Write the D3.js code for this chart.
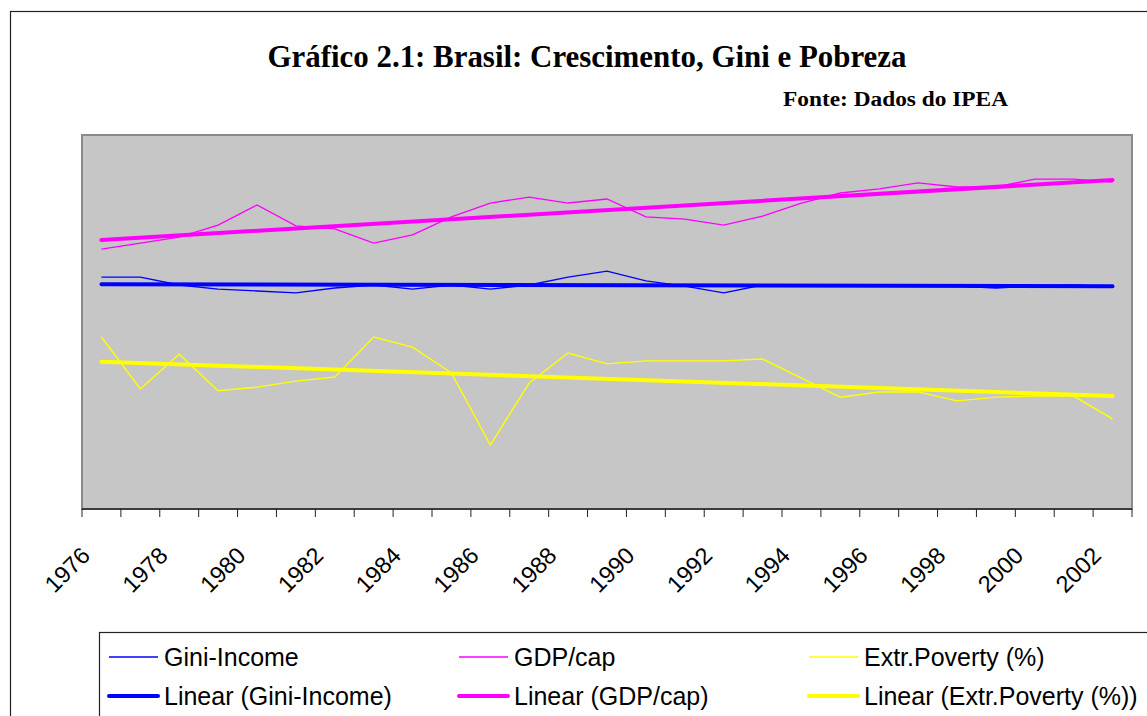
<!DOCTYPE html>
<html>
<head>
<meta charset="utf-8">
<script src="https://cdn.jsdelivr.net/npm/d3@7"></script>
<style>
  body { margin: 0; background: #fff; }
  svg { display: block; }
</style>
</head>
<body>
<svg id="chart"></svg>
<script>
const years = d3.range(1976, 2003);
const tick_years = years.filter(y => y % 2 == 0);

// values (common axis, 0-100)
const gini_income = [62.0, 62.0, 59.9, 58.8, 58.3, 57.8, 59.1, 59.9, 58.8, 59.9, 58.8, 59.9, 62.0, 63.6,
                     61.0, 59.6, 57.8, 59.9, 59.6, 59.6, 59.6, 59.6, 59.6, 59.1, 59.6, 59.9, 59.4];
const gdp_cap = [69.5, 71.1, 72.7, 75.9, 81.3, 75.7, 74.9, 71.1, 73.3, 78.1, 81.8, 83.4, 81.8, 82.9,
                 78.1, 77.5, 75.9, 78.3, 81.8, 84.5, 85.6, 87.2, 86.1, 86.1, 88.2, 88.2, 87.4];
const extr_poverty = [46.0, 32.1, 41.4, 31.6, 32.6, 34.2, 35.3, 46.0, 43.3, 36.4, 17.1, 33.7, 41.7, 38.8,
                      39.6, 39.6, 39.6, 40.1, 35.0, 29.9, 31.3, 31.3, 28.9, 29.9, 30.2, 30.2, 24.1];

const series = [
  {name: "Gini-Income", values: gini_income, color: "#0000ff"},
  {name: "GDP/cap", values: gdp_cap, color: "#ff00ff"},
  {name: "Extr.Poverty (%)", values: extr_poverty, color: "#ffff00"}
];

const width = 1147, height = 716;
const plot = {left: 82, right: 1132, top: 135, bottom: 509};

const svg = d3.select("#chart").attr("width", width).attr("height", height);

// outer chart border
svg.append("rect")
   .attr("x", 10.5).attr("y", 11.5)
   .attr("width", 1200).attr("height", 800)
   .attr("fill", "white")
   .attr("stroke", "#222").attr("stroke-width", 1.2);

svg.append("text")
   .attr("x", 587).attr("y", 67)
   .attr("text-anchor", "middle")
   .attr("font-family", "'Liberation Serif', 'Times New Roman', serif")
   .attr("font-weight", "bold")
   .attr("font-size", 31)
   .attr("textLength", 639).attr("lengthAdjust", "spacingAndGlyphs")
   .text("Gráfico 2.1: Brasil: Crescimento, Gini e Pobreza");

svg.append("text")
   .attr("x", 783).attr("y", 106)
   .attr("font-family", "'Liberation Serif', 'Times New Roman', serif")
   .attr("font-weight", "bold")
   .attr("font-size", 20)
   .attr("textLength", 225).attr("lengthAdjust", "spacingAndGlyphs")
   .text("Fonte: Dados do IPEA");

const x = d3.scaleBand().domain(years).range([plot.left, plot.right]).padding(0);
const cx = d => x(d) + x.bandwidth() / 2;
const y = d3.scaleLinear().domain([0, 100]).range([plot.bottom, plot.top]);

// plot area
svg.append("rect")
   .attr("x", plot.left).attr("y", plot.top)
   .attr("width", plot.right - plot.left).attr("height", plot.bottom - plot.top)
   .attr("fill", "#c6c6c6")
   .attr("stroke", "#8a8a8a").attr("stroke-width", 2);

// x axis with ticks between categories
const ax = svg.append("g");
ax.append("line")
  .attr("x1", plot.left).attr("x2", plot.right)
  .attr("y1", plot.bottom).attr("y2", plot.bottom)
  .attr("stroke", "#222").attr("stroke-width", 1.5);
ax.selectAll(".tick")
  .data(years.concat([null]))
  .enter().append("line")
  .attr("x1", d => d == null ? plot.right : x(d))
  .attr("x2", d => d == null ? plot.right : x(d))
  .attr("y1", plot.bottom).attr("y2", plot.bottom + 8)
  .attr("stroke", "#222").attr("stroke-width", 1);
ax.selectAll(".lbl")
  .data(tick_years)
  .enter().append("text")
  .attr("transform", d => "translate(" + (cx(d) - 10) + "," + 557 + ") rotate(-45)")
  .attr("text-anchor", "end")
  .attr("font-family", "'Liberation Sans', Arial, sans-serif")
  .attr("font-size", 23.5)
  .attr("fill", "#000")
  .text(d => d);

const line = d3.line()
               .x((d, i) => cx(years[i]))
               .y(d => y(d));

function trend(values) {
  const n = values.length;
  const xs = d3.range(n);
  const mx = d3.mean(xs), my = d3.mean(values);
  const b = d3.sum(xs, i => (i - mx) * (values[i] - my)) / d3.sum(xs, i => (i - mx) * (i - mx));
  const a = my - b * mx;
  return [0, n - 1].map(i => ({i: i, v: a + b * i}));
}

const lines = svg.append("g");
series.forEach(function(s) {
  lines.append("path")
       .datum(s.values)
       .attr("d", line)
       .attr("fill", "none")
       .attr("stroke", s.color)
       .attr("stroke-width", 1.4);
});
series.forEach(function(s) {
  lines.append("path")
       .datum(trend(s.values))
       .attr("d", d3.line().x(d => cx(years[d.i])).y(d => y(d.v)))
       .attr("fill", "none")
       .attr("stroke", s.color)
       .attr("stroke-width", 4)
       .attr("stroke-linecap", "round");
});

// legend
const legend = svg.append("g");
legend.append("rect")
      .attr("x", 99.5).attr("y", 632.5)
      .attr("width", 1100).attr("height", 200)
      .attr("fill", "white")
      .attr("stroke", "#222").attr("stroke-width", 1.2);

const legend_cols = [109, 459, 809];
const legend_rows = [657, 696];
series.forEach(function(s, j) {
  [s.name, "Linear (" + s.name + ")"].forEach(function(label, r) {
    const g = legend.append("g")
                    .attr("transform", "translate(" + legend_cols[j] + "," + legend_rows[r] + ")");
    g.append("line")
     .attr("x1", 0).attr("x2", 49)
     .attr("stroke", s.color)
     .attr("stroke-width", r == 0 ? 1.4 : 4)
     .attr("stroke-linecap", r == 0 ? "butt" : "round");
    g.append("text")
     .attr("x", 55).attr("dy", "0.36em")
     .attr("font-family", "'Liberation Sans', Arial, sans-serif")
     .attr("font-size", 25)
     .attr("fill", "#000")
     .text(label);
  });
});
</script>
</body>
</html>
